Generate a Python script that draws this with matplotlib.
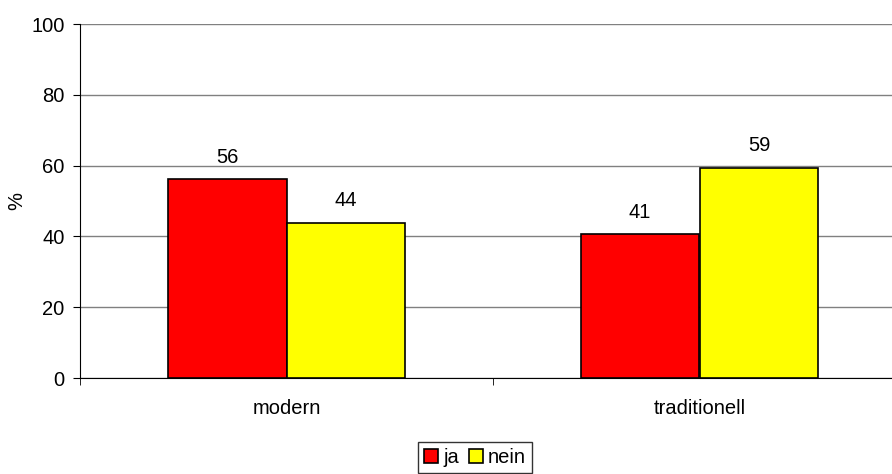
import matplotlib.pyplot as plt
import numpy as np

plt.rcParams['font.family'] = ['Liberation Sans', 'DejaVu Sans']

categories = ['modern', 'traditionell']
ja = [56.2, 40.6]
nein = [43.8, 59.4]
ja_labels = ['56', '41']
nein_labels = ['44', '59']

fs = 14.5

fig = plt.figure(figsize=(8.92, 4.74), dpi=100)
ax = fig.add_axes([80 / 892, 1 - 378 / 474, 826 / 892, 354 / 474])

x = np.arange(len(categories))
w = 0.288
b1 = ax.bar(x - w / 2, ja, w, color='#ff0000', edgecolor='black', linewidth=1.2, label='ja', zorder=3)
b2 = ax.bar(x + w / 2, nein, w, color='#ffff00', edgecolor='black', linewidth=1.2, label='nein', zorder=3)

for bars, labs in ((b1, ja_labels), (b2, nein_labels)):
    for r, lab in zip(bars, labs):
        ax.annotate(lab, (r.get_x() + r.get_width() / 2, r.get_height()),
                    xytext=(0, 9), textcoords='offset points',
                    ha='center', va='bottom', fontsize=fs)

ax.set_xlim(-0.5, 1.5)
ax.set_ylim(0, 100)
ax.set_yticks([0, 20, 40, 60, 80, 100])
ax.set_xticks(x)
ax.set_xticklabels(categories, fontsize=fs)
ax.set_xticks([-0.5, 0.5, 1.5], minor=True)
ax.tick_params(axis='x', which='major', length=0, pad=15)
ax.tick_params(axis='x', which='minor', length=5, direction='out')
ax.tick_params(axis='y', labelsize=fs, length=5, direction='out', pad=6)
ax.yaxis.grid(True, color='#808080', linewidth=1)
ax.set_axisbelow(True)
for s in ('top', 'right'):
    ax.spines[s].set_visible(False)
ax.spines['left'].set_color('black')
ax.spines['bottom'].set_color('black')
ax.set_ylabel('%', fontsize=fs)
ax.yaxis.set_label_coords(-54 / 826, 0.5)

fig.legend(handles=[b1, b2], loc='lower center', bbox_to_anchor=(475 / 892, -0.02),
           ncol=2, frameon=True, fancybox=False, edgecolor='black', fontsize=fs,
           handlelength=0.7, handleheight=0.7, handletextpad=0.25, columnspacing=0.5,
           borderpad=0.3)

fig.savefig('out.png', dpi=100)
